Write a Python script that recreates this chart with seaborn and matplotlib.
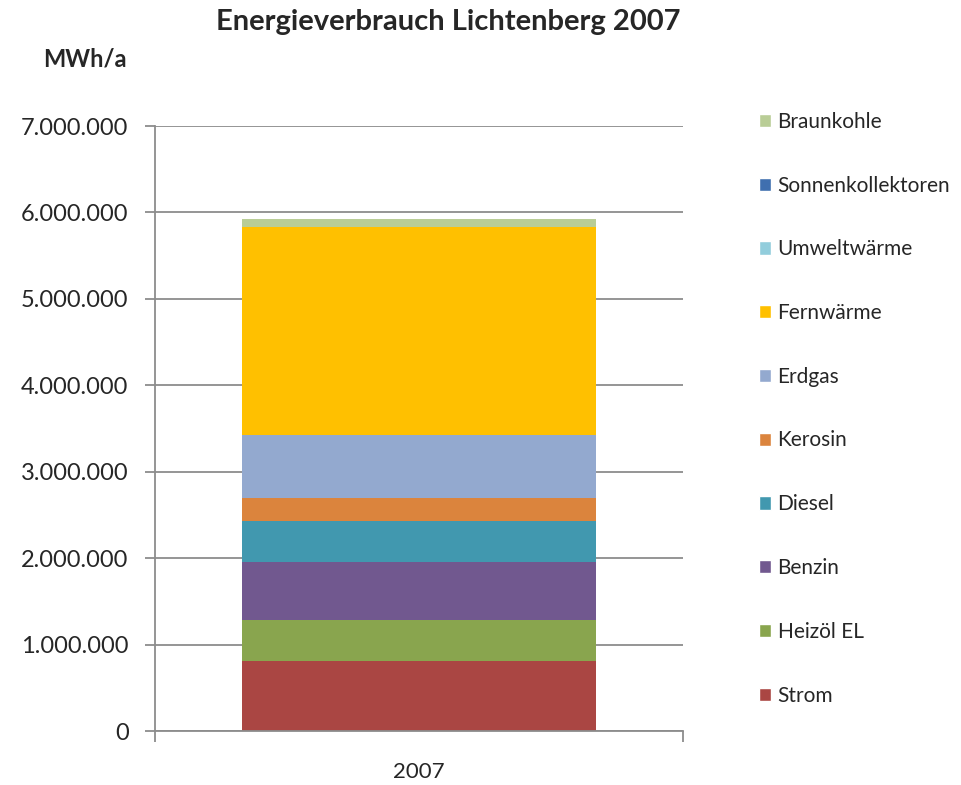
import numpy as np
import pandas as pd
import seaborn as sns
import matplotlib.pyplot as plt
from matplotlib.patches import Patch
from matplotlib.ticker import FuncFormatter

# energy consumption per carrier in MWh/a
carriers = ['Strom', 'Heizöl EL', 'Benzin', 'Diesel', 'Kerosin', 'Erdgas',
            'Fernwärme', 'Umweltwärme', 'Sonnenkollektoren', 'Braunkohle']
values = [812000, 478000, 670000, 470000, 270000, 730000,
          2400000, 4000, 1000, 90000]
colors = ['#AA4643', '#89A54E', '#71588F', '#4198AF', '#DB843D', '#93A9CF',
          '#FFC000', '#92CDDC', '#3F6FAF', '#B9CD96']
year = ['2007']

sns.set_theme(style="white")
plt.rcParams['font.family'] = ['Lato', 'DejaVu Sans']

df = pd.DataFrame({'carrier': carriers, 'value': values})
df['cum'] = df['value'].cumsum()

fig = plt.figure(figsize=(9.62, 7.85), dpi=100)
ax = fig.add_axes([155/962, 1-731/785, 528/962, 605/785])

# stacked bar: draw the cumulative totals from the top down
for i in range(len(df) - 1, -1, -1):
    sns.barplot(x=year, y=[df['cum'][i]], color=colors[i], width=0.67,
                saturation=1, linewidth=0, ax=ax, zorder=2)

ax.set_ylim(0, 7000000)
ax.set_yticks(np.arange(0, 7000001, 1000000))
ax.yaxis.set_major_formatter(FuncFormatter(lambda v, p: f'{int(v):,}'.replace(',', '.')))
ax.grid(axis='y', color='#8c8c8c', lw=1.3, zorder=0)
for s in ['top', 'right']:
    ax.spines[s].set_visible(False)
for s in ['left', 'bottom']:
    ax.spines[s].set_color('#8c8c8c')
    ax.spines[s].set_linewidth(1.3)
ax.tick_params(axis='y', left=True, length=7, width=1.3, color='#8c8c8c',
               labelsize=17, pad=12)
ax.tick_params(axis='x', bottom=False, labelsize=16, pad=16)
ax.set_ylabel('')
ax.set_xlabel('')
ax.set_xticks([-0.5, 0.5], minor=True)
ax.tick_params(axis='x', which='minor', bottom=True, length=8, width=1.3, color='#8c8c8c')
ax.set_xlim(-0.5, 0.5)

fig.text(448/962, 1-22/785, 'Energieverbrauch Lichtenberg 2007', ha='center', va='center',
         fontsize=21, fontweight='bold')
fig.text(85/962, 1-59/785, 'MWh/a', ha='center', va='center', fontsize=17, fontweight='bold')

handles = [Patch(facecolor=c, label=l) for c, l in zip(colors, carriers)][::-1]
fig.legend(handles=handles, loc='upper left', bbox_to_anchor=(740/962, 1-93/785),
           frameon=False, fontsize=15, handlelength=0.6, handleheight=0.6,
           handletextpad=0.3, labelspacing=2.1)

plt.savefig('out.png', dpi=100)
